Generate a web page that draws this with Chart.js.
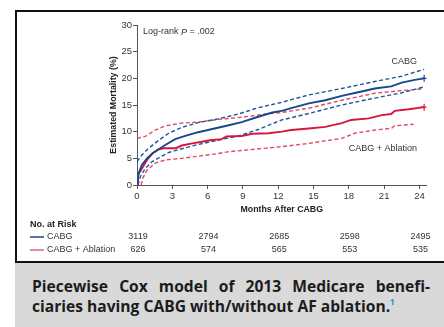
<!DOCTYPE html>
<html lang="en">
<head>
    <meta charset="UTF-8">
    <title>Estimated Mortality after CABG</title>
    <script src="https://cdn.jsdelivr.net/npm/chart.js"></script>
    <style>
        html, body {
            margin: 0;
            padding: 0;
            background: #ffffff;
            width: 444px;
            height: 327px;
            overflow: hidden;
        }
        .frame {
            position: absolute;
            left: 15px;
            top: 10px;
            width: 460px;
            height: 249px;
            border: 2px solid #111;
        }
        #chart {
            position: absolute;
            left: 0;
            top: 0;
        }
        .caption {
            position: absolute;
            left: 15px;
            top: 263px;
            width: 429px;
            height: 64px;
            background: #d9d9d9;
            box-sizing: border-box;
            padding: 13px 14px 0 17px;
            font-family: 'Open Sans', 'Noto Sans', sans-serif;
            font-weight: bold;
            font-size: 15.6px;
            line-height: 20px;
            color: #1c1c1c;
        }
        .caption .l1 {
            text-align: justify;
            text-align-last: justify;
            white-space: nowrap;
        }
        .caption sup {
            color: #2a8cc6;
            font-size: 8px;
            vertical-align: 7px;
            line-height: 0;
        }
    </style>
</head>
<body>
    <div class="frame"></div>
    <canvas id="chart" width="444" height="262"></canvas>
    <div class="caption">
        <div class="l1">Piecewise Cox model of 2013 Medicare benefi-</div>
        <div>ciaries having CABG with/without AF ablation.<sup>1</sup></div>
    </div>

    <script>
        // x axis ticks (months)
        const xTicks = [0, 3, 6, 9, 12, 15, 18, 21, 24];

        // CABG alone: estimate and 95% band
        const cabgMonths = [0, 0.15, 0.4, 0.85, 1.3, 1.85, 2.4, 3.25, 4.1, 5.2, 6.4, 7.8, 8.9, 10.3, 11.5, 12.3, 13.1, 14.6, 16.0, 17.4, 18.8, 20.2, 21.6, 22.5, 23.6, 24.4];
        const cabgEst = [0, 2.2, 3.7, 5.0, 5.9, 6.7, 7.5, 8.6, 9.2, 9.9, 10.5, 11.2, 11.8, 12.8, 13.6, 13.9, 14.4, 15.3, 15.9, 16.7, 17.4, 18.1, 18.5, 19.2, 19.7, 20.0];
        const cabgUpMonths = [0, 0.4, 1.0, 1.85, 2.7, 3.8, 5.2, 6.9, 8.6, 10.3, 12.3, 14.6, 17.4, 20.2, 22.5, 24.4];
        const cabgUpper = [4.4, 5.6, 6.9, 8.4, 9.7, 10.8, 11.7, 12.4, 13.3, 14.5, 15.5, 16.9, 18.1, 19.4, 20.4, 21.7];
        const cabgLoMonths = [0.08, 0.3, 0.7, 1.3, 2.0, 2.7, 3.8, 5.2, 6.9, 8.6, 10.3, 12.3, 14.6, 17.4, 20.2, 22.5, 24.4];
        const cabgLower = [0, 1.6, 3.1, 4.4, 5.3, 6.1, 6.8, 7.6, 8.4, 9.2, 10.4, 12.2, 13.4, 15.0, 16.3, 17.3, 18.4];

        // CABG + Ablation: estimate and 95% band
        const ablMonths = [0, 0.08, 0.37, 0.85, 1.3, 1.85, 2.3, 3.3, 3.8, 4.7, 5.5, 6.2, 7.2, 7.6, 8.9, 9.8, 11.2, 12.3, 13.1, 14.6, 16.0, 17.4, 18.2, 19.7, 20.8, 21.6, 21.9, 23.1, 24.4];
        const ablEst = [0, 1.9, 2.9, 4.7, 5.9, 6.7, 6.9, 6.9, 7.4, 7.8, 8.1, 8.4, 8.6, 9.1, 9.2, 9.6, 9.7, 10.0, 10.3, 10.6, 10.9, 11.6, 12.2, 12.5, 13.1, 13.3, 13.9, 14.2, 14.6];
        const ablUpMonths = [0, 0.7, 1.55, 2.4, 3.8, 5.2, 6.9, 8.9, 10.9, 12.3, 14.6, 17.4, 20.2, 22.5, 24.2];
        const ablUpper = [8.75, 9.1, 10.3, 11.1, 11.6, 11.8, 12.3, 12.7, 13.3, 13.6, 14.4, 15.9, 17.2, 17.7, 18.0];
        const ablLoMonths = [0.35, 0.5, 0.85, 1.55, 2.4, 3.8, 5.2, 6.9, 7.8, 9.5, 12.3, 14.6, 17.4, 18.5, 20.2, 21.6, 21.9, 23.5];
        const ablLower = [0, 1.3, 2.8, 4.1, 4.7, 5.0, 5.4, 5.9, 6.25, 6.6, 7.2, 7.8, 8.75, 9.7, 10.3, 10.6, 11.1, 11.4];

        // number at risk table
        const riskMonths = [0, 6, 12, 18, 24];
        const cabgRisk = [3119, 2794, 2685, 2598, 2495];
        const ablRisk = [626, 574, 565, 553, 535];

        const BLUE = '#17488a';
        const BLUE_DASH = '#1d5699';
        const RED = '#d5173f';
        const RED_DASH = '#df4a68';
        const TXT = '#333333';
        const FONT = "'Liberation Sans', Arial, sans-serif";

        function pts(xs, ys) {
            return xs.map((x, i) => ({ x: x, y: ys[i] }));
        }

        function solid(label, xs, ys, color) {
            const last = xs.length - 1;
            return {
                label: label,
                data: pts(xs, ys),
                borderColor: color,
                backgroundColor: color,
                borderWidth: 1.9,
                pointStyle: 'cross',
                pointRadius: c => c.dataIndex === last ? 3.5 : 0,
                pointBorderWidth: 1.2,
                pointBorderColor: color,
                tension: 0
            };
        }

        function dashed(label, xs, ys, color) {
            return {
                label: label,
                data: pts(xs, ys),
                borderColor: color,
                borderWidth: 1.4,
                borderDash: [4, 2.5],
                pointRadius: 0,
                tension: 0
            };
        }

        const annotations = {
            id: 'annotations',
            afterDraw(chart) {
                const ctx = chart.ctx;
                const x = chart.scales.x;
                const y = chart.scales.y;
                ctx.save();
                ctx.fillStyle = TXT;
                ctx.textBaseline = 'middle';

                // log-rank text
                let tx = x.left + 6;
                const ty = y.top + 7;
                ctx.font = '9px ' + FONT;
                ctx.textAlign = 'left';
                ctx.fillText('Log-rank ', tx, ty);
                tx += ctx.measureText('Log-rank ').width;
                ctx.font = 'italic 9px ' + FONT;
                ctx.fillText('P', tx, ty);
                tx += ctx.measureText('P').width;
                ctx.font = '9px ' + FONT;
                ctx.fillText(' = .002', tx, ty);

                // curve labels
                ctx.textAlign = 'right';
                ctx.fillText('CABG', x.getPixelForValue(23.8), y.getPixelForValue(23.1));
                ctx.fillText('CABG + Ablation', x.getPixelForValue(23.8), y.getPixelForValue(6.9));

                // number at risk
                ctx.textAlign = 'left';
                ctx.font = 'bold 9px ' + FONT;
                ctx.fillStyle = '#222';
                ctx.fillText('No. at Risk', 30, 225);

                const rows = [
                    { name: 'CABG', color: BLUE, vals: cabgRisk, y: 237 },
                    { name: 'CABG + Ablation', color: '#e0637f', vals: ablRisk, y: 250 }
                ];
                rows.forEach(r => {
                    ctx.strokeStyle = r.color;
                    ctx.lineWidth = 1.5;
                    ctx.beginPath();
                    ctx.moveTo(30, r.y);
                    ctx.lineTo(44, r.y);
                    ctx.stroke();
                    ctx.font = '9px ' + FONT;
                    ctx.fillStyle = TXT;
                    ctx.textAlign = 'left';
                    ctx.fillText(r.name, 47, r.y);
                    ctx.textAlign = 'center';
                    r.vals.forEach((v, i) => {
                        ctx.fillText(String(v), x.getPixelForValue(riskMonths[i]) + 1, r.y);
                    });
                });
                ctx.restore();
            }
        };

        window.onload = () => {
            const ctx = document.getElementById('chart').getContext('2d');
            new Chart(ctx, {
                type: 'line',
                data: {
                    datasets: [
                        solid('CABG', cabgMonths, cabgEst, BLUE),
                        solid('CABG + Ablation', ablMonths, ablEst, RED),
                        dashed('CABG upper', cabgUpMonths, cabgUpper, BLUE_DASH),
                        dashed('CABG lower', cabgLoMonths, cabgLower, BLUE_DASH),
                        dashed('Ablation upper', ablUpMonths, ablUpper, RED_DASH),
                        dashed('Ablation lower', ablLoMonths, ablLower, RED_DASH)
                    ]
                },
                options: {
                    responsive: false,
                    animation: false,
                    devicePixelRatio: 1,
                    layout: { padding: { left: 0, right: 17.5, top: 25, bottom: 0 } },
                    plugins: {
                        legend: { display: false },
                        tooltip: { enabled: false }
                    },
                    scales: {
                        x: {
                            type: 'linear',
                            min: 0,
                            max: 24.6,
                            afterBuildTicks: s => { s.ticks = xTicks.map(v => ({ value: v })); },
                            afterFit: s => { s.height = 77; },
                            border: { color: '#555', width: 1 },
                            grid: { drawOnChartArea: false, drawTicks: true, tickLength: 4, color: '#555' },
                            ticks: { color: TXT, font: { family: FONT, size: 9.5 }, padding: 2, maxRotation: 0 },
                            title: {
                                display: true,
                                text: 'Months After CABG',
                                color: '#222',
                                font: { family: FONT, size: 8.8, weight: 'bold' },
                                padding: { top: 0, bottom: 46.8 }
                            }
                        },
                        y: {
                            min: 0,
                            max: 30,
                            afterFit: s => { s.width = 137; },
                            border: { color: '#555', width: 1 },
                            grid: { drawOnChartArea: false, drawTicks: true, tickLength: 4, color: '#555' },
                            ticks: { stepSize: 5, color: TXT, font: { family: FONT, size: 9.5 }, padding: 1 },
                            title: {
                                display: true,
                                text: 'Estimated Mortality (%)',
                                color: '#222',
                                font: { family: FONT, size: 8.8, weight: 'bold' },
                                padding: { top: 107.8, bottom: 0 }
                            }
                        }
                    }
                },
                plugins: [annotations]
            });
        };
    </script>
</body>
</html>
